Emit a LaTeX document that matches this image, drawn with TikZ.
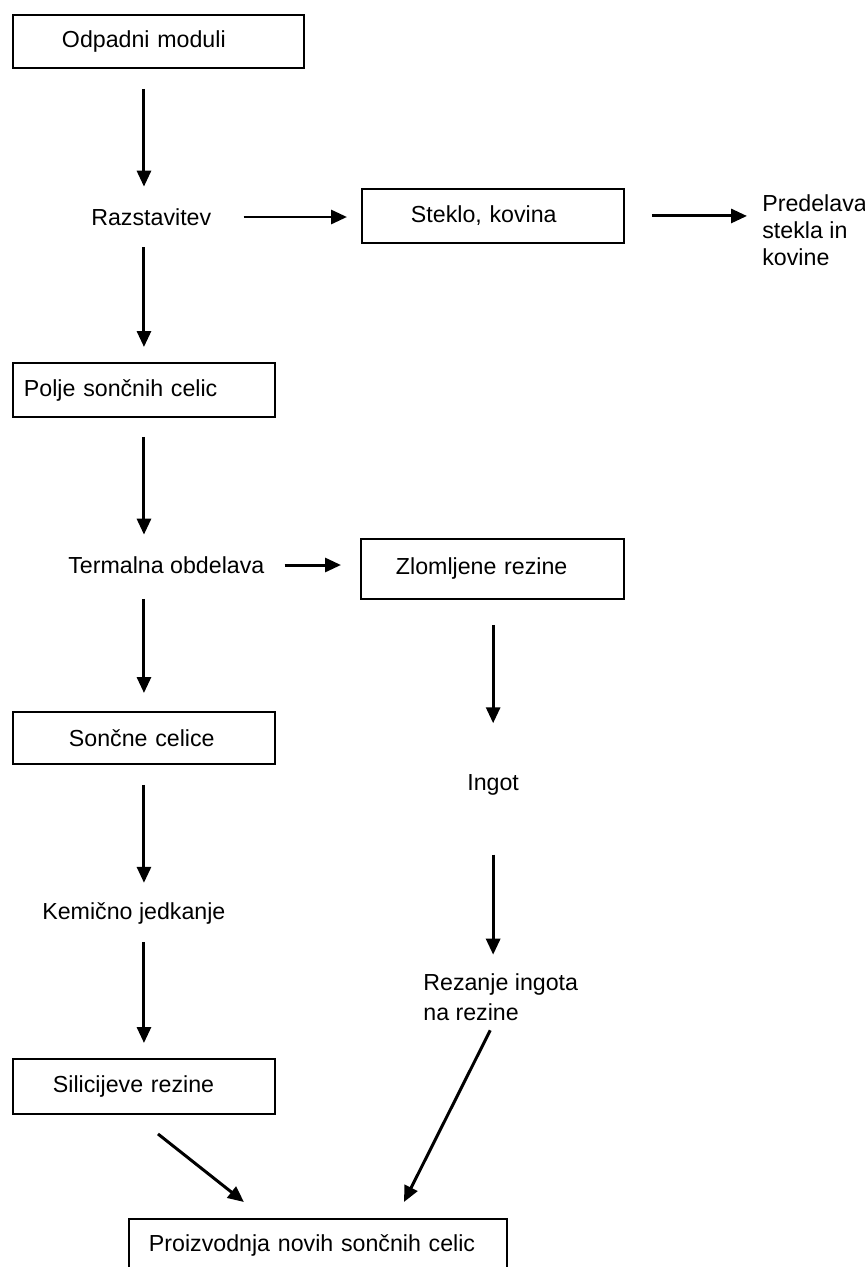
\documentclass[tikz,border=0pt]{standalone}
\usepackage{fontspec}
\setmainfont{Liberation Sans}
\usetikzlibrary{arrows.meta}
\setlength{\parindent}{0pt}

\tikzset{
    okvir/.style={draw, line width=1.1pt, anchor=north west, inner xsep=0pt, inner ysep=0pt, align=left},
    napis/.style={anchor=west, inner sep=0pt, align=left},
    puscica/.style={line width=1.7pt, -{Triangle[length=3.2mm, width=2.8mm]}}
}

\begin{document}
\begin{tikzpicture}[font=\fontsize{13.2pt}{15.4pt}\selectfont]

    \useasboundingbox (0,0) rectangle (17.3,-25.34);

    %leva veja
    \node[okvir, text width=5.82cm, minimum height=1.06cm] (odpadni) at (0.24,-0.28) {\hspace*{0.98cm}Odpadni moduli};
    \node[napis] (razstavitev) at (1.82,-4.34) {Razstavitev};
    \node[okvir, text width=5.24cm, minimum height=1.08cm] (polje) at (0.24,-7.24) {\hspace*{0.22cm}Polje sončnih celic};
    \node[napis] (termalna) at (1.36,-11.30) {Termalna obdelava};
    \node[okvir, text width=5.24cm, minimum height=1.04cm] (soncne) at (0.24,-14.22) {\hspace*{1.12cm}Sončne celice};
    \node[napis] (kemicno) at (0.84,-18.26) {Kemično jedkanje};
    \node[okvir, text width=5.24cm, minimum height=1.10cm] (silicijeve) at (0.24,-21.16) {\hspace*{0.8cm}Silicijeve rezine};

    %desna veja
    \node[okvir, text width=5.24cm, minimum height=1.08cm] (steklo) at (7.22,-3.76) {\hspace*{0.98cm}Steklo, kovina};
    \node[napis] (predelava) at (15.24,-4.60) {Predelava\\stekla in\\kovine};
    \node[okvir, text width=5.26cm, minimum height=1.20cm] (zlomljene) at (7.20,-10.76) {\hspace*{0.7cm}Zlomljene rezine};
    \node[napis] (ingot) at (9.34,-15.70) {Ingot};
    \node[napis, font=\fontsize{13.2pt}{17pt}\selectfont] (rezanje) at (8.46,-19.94) {Rezanje ingota\\na rezine};

    \node[okvir, text width=7.56cm, minimum height=1.04cm] (nove) at (2.56,-24.36) {\hspace*{0.4cm}Proizvodnja novih sončnih celic};

    %puscice navzdol
    \draw[puscica, shorten <=0.4cm, shorten >=0.43cm] (odpadni.south -| polje.north) -- (razstavitev.north -| polje.north);
    \draw[puscica, shorten <=0.43cm, shorten >=0.3cm] (razstavitev.south -| polje.north) -- (polje.north);
    \draw[puscica, shorten <=0.38cm, shorten >=0.43cm] (polje.south) -- (termalna.north -| polje.south);
    \draw[puscica, shorten <=0.5cm, shorten >=0.36cm] (termalna.south -| soncne.north) -- (soncne.north);
    \draw[puscica, shorten <=0.4cm, shorten >=0.38cm] (soncne.south) -- (kemicno.north -| soncne.south);
    \draw[puscica, shorten <=0.36cm, shorten >=0.3cm] (kemicno.south -| silicijeve.north) -- (silicijeve.north);

    \draw[puscica, shorten <=0.5cm, shorten >=1.02cm] (zlomljene.south -| ingot.north) -- (ingot.north);
    \draw[puscica, shorten <=1.18cm, shorten >=0.37cm] (ingot.south) -- (rezanje.north -| ingot.south);

    %puscice v desno
    \draw[puscica, shorten <=0.64cm, shorten >=0.28cm] (razstavitev.east) -- (razstavitev.east -| steklo.west);
    \draw[puscica, shorten <=0.54cm, shorten >=0.3cm] (steklo.east) -- (steklo.east -| predelava.west);
    \draw[puscica, shorten <=0.4cm, shorten >=0.38cm] (termalna.east) -- (termalna.east -| zlomljene.west);

    %posevne
    \draw[puscica] ([xshift=0.28cm, yshift=-0.38cm]silicijeve.south) -- ([xshift=-1.48cm, yshift=0.32cm]nove.north);
    \draw[puscica] ([xshift=-0.21cm, yshift=-0.19cm]rezanje.south) -- ([xshift=1.72cm, yshift=0.32cm]nove.north);

\end{tikzpicture}
\end{document}
